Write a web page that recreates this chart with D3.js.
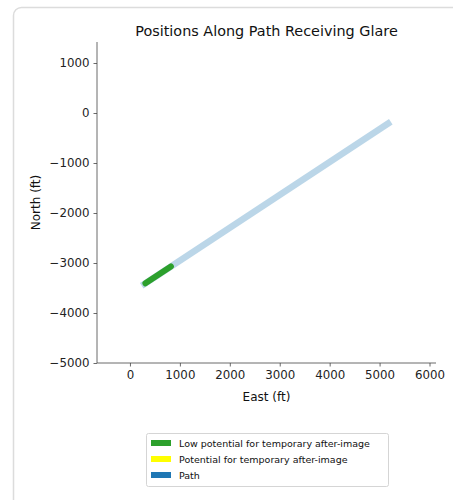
<!DOCTYPE html>
<html><head><meta charset="utf-8">
<script src="https://cdn.jsdelivr.net/npm/d3@7"></script>
<style>
html,body{margin:0;padding:0;background:#fff;}
svg{display:block;font-family:"DejaVu Sans",sans-serif;}
</style></head>
<body>
<svg id="chart" width="453" height="500"></svg>
<script>
const title = "Positions Along Path Receiving Glare";
const xLabel = "East (ft)";
const yLabel = "North (ft)";
const xTicks = [0, 1000, 2000, 3000, 4000, 5000, 6000];
const yTicks = [1000, 0, -1000, -2000, -3000, -4000, -5000];
const xDomain = [-660, 6130];
const yDomain = [-5000, 1420];
// path (light blue)
const pathEast = [290, 5170];
const pathNorth = [-3420, -210];
// low potential glare segment (green)
const lowEast = [310, 820];
const lowNorth = [-3407, -3070];
const legendLabels = ["Low potential for temporary after-image", "Potential for temporary after-image", "Path"];
const legendColors = ["#2ca02c", "#ffff00", "#1f77b4"];

const svg = d3.select("#chart");
// card
svg.append("rect").attr("x", 13.5).attr("y", 7.5).attr("width", 460).attr("height", 510)
  .attr("rx", 8).attr("fill", "#fff").attr("stroke", "#dcdcdc").attr("stroke-width", 1.5);

const L = 97, R = 436, T = 42, B = 363;
const x = d3.scaleLinear().domain(xDomain).range([L, R]);
const y = d3.scaleLinear().domain(yDomain).range([B, T]);

const fmt = d => d < 0 ? "\u2212" + Math.abs(d) : String(d);

const xa = svg.append("g").attr("transform", `translate(0,${B})`)
  .call(d3.axisBottom(x).tickValues(xTicks).tickFormat(fmt).tickSize(3.5).tickPadding(4));
const ya = svg.append("g").attr("transform", `translate(${L},0)`)
  .call(d3.axisLeft(y).tickValues(yTicks).tickFormat(fmt).tickSize(3.5).tickPadding(4));
[xa, ya].forEach(a => {
  a.selectAll("text").attr("font-size", 11.8).attr("fill", "#222").attr("font-family", "DejaVu Sans");
  a.selectAll("line").attr("stroke", "#444").attr("stroke-width", 0.8);
  a.select(".domain").attr("stroke", "#444").attr("stroke-width", 0.8);
});
xa.select(".domain").attr("d", `M0,0H${R - L}`).attr("transform", `translate(${L},0)`);
ya.select(".domain").attr("d", `M0,${T}V${B}`);

const line = d3.line().x(d => x(d[0])).y(d => y(d[1]));
svg.append("path").datum(d3.zip(pathEast, pathNorth)).attr("d", line)
  .attr("stroke", "#1f77b4").attr("stroke-opacity", 0.3).attr("stroke-width", 6.5)
  .attr("fill", "none").attr("stroke-linecap", "square");
svg.append("path").datum(d3.zip(lowEast, lowNorth)).attr("d", line)
  .attr("stroke", "#2ca02c").attr("stroke-width", 6)
  .attr("fill", "none").attr("stroke-linecap", "round");

svg.append("text").attr("x", (L + R) / 2).attr("y", 36).attr("text-anchor", "middle")
  .attr("font-size", 14.4).attr("fill", "#111").text(title);
svg.append("text").attr("x", (L + R) / 2).attr("y", 401).attr("text-anchor", "middle")
  .attr("font-size", 12).attr("fill", "#111").text(xLabel);
svg.append("text").attr("transform", `translate(40,${(T + B) / 2}) rotate(-90)`).attr("text-anchor", "middle")
  .attr("font-size", 12).attr("fill", "#111").text(yLabel);

// legend
const lg = svg.append("g");
lg.append("rect").attr("x", 146.5).attr("y", 433.5).attr("width", 242).attr("height", 53)
  .attr("rx", 2).attr("fill", "#fff").attr("stroke", "#d5d5d5");
legendLabels.forEach((t, i) => {
  const cy = 443 + i * 16;
  lg.append("rect").attr("x", 151).attr("y", cy - 3).attr("width", 20).attr("height", 6).attr("fill", legendColors[i]);
  lg.append("text").attr("x", 179).attr("y", cy + 3.5).attr("font-size", 9.5).attr("fill", "#111").text(t);
});
</script>
</body></html>
